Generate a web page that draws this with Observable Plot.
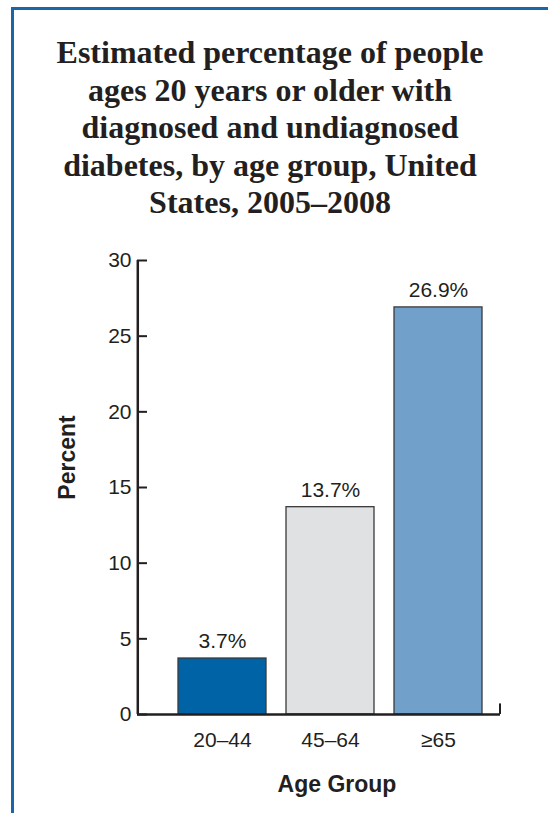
<!DOCTYPE html>
<html>
<head>
<meta charset="utf-8">
<script src="https://cdn.jsdelivr.net/npm/d3@7"></script>
<script src="https://cdn.jsdelivr.net/npm/@observablehq/plot@0.6"></script>
<style>
  html, body { margin: 0; padding: 0; background: #fff; }
  body { width: 548px; height: 813px; position: relative; overflow: hidden; }
  #border { position: absolute; left: 11px; top: 7px; width: 700px; height: 900px;
    border-top: 3px solid #1a66a8; border-left: 3px solid #1a66a8; }
  #title { position: absolute; left: 14px; top: 34px; width: 512px; text-align: center;
    font-family: "Liberation Serif", "Times New Roman", serif; font-weight: bold;
    font-size: 32px; line-height: 37.5px; color: #231f20; margin: 0; }
  #chart { position: absolute; left: 0; top: 230px; }
</style>
</head>
<body>
<div id="border"></div>
<h1 id="title">Estimated percentage of people<br>ages 20 years or older with<br>diagnosed and undiagnosed<br>diabetes, by age group, United<br>States, 2005–2008</h1>
<div id="chart"></div>
<script>
const ageGroups = ["20–44", "45–64", "≥65"];
const percents = [3.7, 13.7, 26.9];
const yTicks = [0, 5, 10, 15, 20, 25, 30];
const barColors = ["#0063a6", "#e0e1e3", "#71a0cb"];

const data = ageGroups.map((g, i) => ({group: g, value: percents[i]}));

const W = 548, H = 583;
const mL = 137, mR = 48, mT = 30, mB = 99;
const frameW = W - mL - mR;
const ink = "#231f20";
const bandLeft = 177.7, bandRight = 482.5, padIn = 0.188;
const step = (bandRight - bandLeft) / (ageGroups.length - padIn);
const firstCenter = bandLeft + step * (1 - padIn) / 2;
const lastCenter = firstCenter + step * (ageGroups.length - 1);

const plot = Plot.plot({
  width: W,
  height: H,
  marginLeft: mL,
  marginRight: mR,
  marginTop: mT,
  marginBottom: mB,
  style: {fontFamily: "'Liberation Sans', Arial, sans-serif", color: ink, background: "transparent"},
  x: {domain: ageGroups, range: [bandLeft, bandRight], paddingInner: padIn, paddingOuter: 0},
  y: {domain: [0, 30]},
  color: {domain: ageGroups, range: barColors},
  marks: [
    Plot.barY(data, {x: "group", y: "value", fill: "group", stroke: "#3a3a3a", strokeWidth: 1.3}),
    Plot.text(data, {x: "group", y: "value", text: d => d.value.toFixed(1) + "%", dy: -17, fontSize: 21, fill: ink}),
    Plot.ruleY(yTicks, {y: d => d, insetRight: frameW - 10, stroke: ink, strokeWidth: 2}),
    Plot.ruleY([0], {stroke: ink, strokeWidth: 2.5}),
    Plot.ruleX([ageGroups[0]], {x: d => d, dx: mL - firstCenter, y1: 0, y2: 30, stroke: ink, strokeWidth: 2.5}),
    Plot.axisY({ticks: yTicks, tickSize: 0, tickPadding: 6, fontSize: 21, label: null}),
    Plot.axisX({tickSize: 0, tickPadding: 18, fontSize: 21, label: null}),
    Plot.ruleX([ageGroups[ageGroups.length - 1]], {x: d => d, dx: (W - mR) - lastCenter, y1: 0, y2: 0.7, stroke: ink, strokeWidth: 2}),
    Plot.text(["Age Group"], {frameAnchor: "bottom", text: d => d, dx: 18, dy: 77, fontSize: 23, fontWeight: "bold", fill: ink}),
    Plot.text(["Percent"], {frameAnchor: "left", textAnchor: "middle", text: d => d, rotate: -90, dx: -69.5, dy: -30, fontSize: 23, fontWeight: "bold", fill: ink})
  ]
});
document.getElementById("chart").appendChild(plot);
</script>
</body>
</html>
